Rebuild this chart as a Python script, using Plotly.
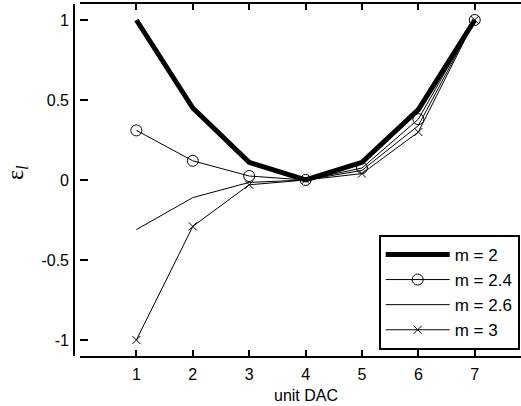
import plotly.graph_objects as go

x_units = [1, 2, 3, 4, 5, 6, 7]
m2 = [1.0, 0.45, 0.11, 0.0, 0.11, 0.44, 1.0]
m24 = [0.31, 0.12, 0.025, 0.0, 0.075, 0.38, 1.0]
m26 = [-0.31, -0.11, -0.015, 0.0, 0.06, 0.34, 1.0]
m3 = [-1.0, -0.29, -0.03, 0.0, 0.04, 0.30, 1.0]
names = ["m = 2", "m = 2.4", "m = 2.6", "m = 3"]

fig = go.Figure()
fig.add_trace(go.Scatter(x=x_units, y=m2, mode="lines", name=names[0], legendgroup="a",
                         line=dict(color="black", width=5)))
fig.add_trace(go.Scatter(x=x_units, y=m24, mode="lines+markers", name=names[1], legendgroup="b",
                         line=dict(color="black", width=1),
                         marker=dict(symbol="circle-open", size=11, color="black", line=dict(width=1))))
fig.add_trace(go.Scatter(x=x_units, y=m26, mode="lines", name=names[2], legendgroup="c",
                         line=dict(color="black", width=1)))
fig.add_trace(go.Scatter(x=x_units, y=m3, mode="lines+markers", name=names[3], legendgroup="d",
                         line=dict(color="black", width=1),
                         marker=dict(symbol="x-thin-open", size=8, color="black", line=dict(width=1, color="black"))))

fig.update_layout(
    width=521, height=406,
    margin=dict(l=80, r=0, t=4, b=50),
    paper_bgcolor="white", plot_bgcolor="white",
    font=dict(family="Liberation Sans, Arial", size=16, color="black"),
    showlegend=True,
    legend=dict(x=0.997, xanchor="right", y=0.344, yanchor="top",
                bgcolor="white", bordercolor="black", borderwidth=2,
                font=dict(size=17), itemwidth=64, tracegroupgap=0),
    xaxis=dict(range=[0, 7.82], tickvals=x_units, ticks="inside", ticklen=6, tickwidth=1.5,
               tickcolor="black", showline=True, linewidth=2, linecolor="black",
               mirror="allticks", showgrid=False, zeroline=False, ticklabelstandoff=3),
    yaxis=dict(range=[-1.1, 1.1], tickvals=[-1, -0.5, 0, 0.5, 1],
               ticktext=["-1", "-0.5", "0", "0.5", "1"],
               ticks="inside", ticklen=8, tickwidth=1.5, tickcolor="black",
               showline=False, showgrid=False, zeroline=False, ticklabelstandoff=10),
    shapes=[dict(type="line", xref="paper", yref="paper", x0=-6/441, x1=-6/441, y0=0, y1=1,
                 line=dict(color="black", width=2))],
    annotations=[
        dict(text="unit DAC", x=4, xref="x", y=-39/352, yref="paper", showarrow=False,
             xanchor="center", yanchor="middle", font=dict(size=16)),
        dict(text="ε<sub><i>l</i></sub>", x=-63/441, xref="paper", y=0.52, yref="paper",
             showarrow=False, textangle=-90, xanchor="center", yanchor="middle",
             font=dict(family="Liberation Serif, Times New Roman", size=24)),
    ],
)

fig.write_html("out.html")
